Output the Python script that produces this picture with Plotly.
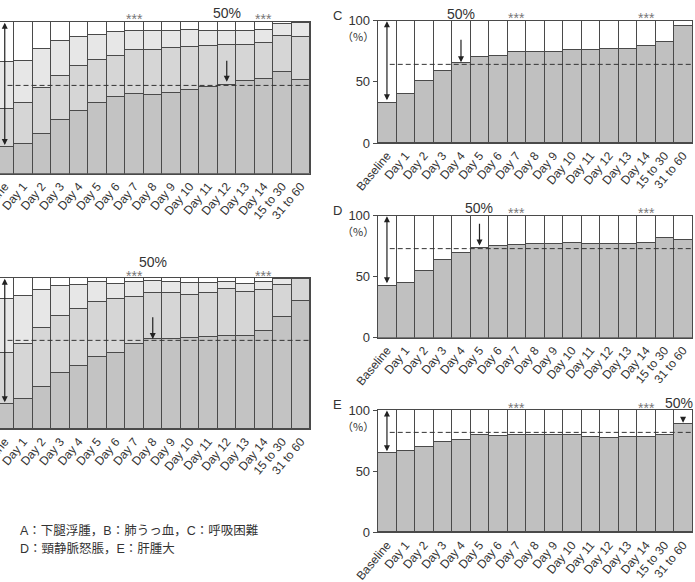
import plotly.graph_objects as go

categories = ["Baseline", "Day 1", "Day 2", "Day 3", "Day 4", "Day 5", "Day 6",
              "Day 7", "Day 8", "Day 9", "Day 10", "Day 11", "Day 12", "Day 13",
              "Day 14", "15 to 30", "31 to 60"]

# Panel A (cumulative boundaries, %)
a_dark = [17.4, 19.8, 25.9, 35.2, 41.1, 46.6, 50.5, 52.5, 51.6, 53.4, 55.2, 56.9, 58.7, 61.3, 62.2, 67.0, 61.8]
a_mid = [42.4, 46.4, 56.3, 64.4, 70.8, 74.7, 77.8, 81.3, 81.3, 82.9, 83.7, 84.0, 84.6, 85.1, 86.2, 90.5, 89.9]
a_light = [73.4, 74.5, 82.0, 87.7, 89.9, 91.4, 93.2, 93.8, 93.8, 94.1, 94.5, 93.8, 93.8, 93.8, 94.5, 98.5, 99.6]

# Panel B (cumulative boundaries, %)
b_dark = [16.3, 19.6, 27.8, 37.3, 41.5, 47.7, 50.1, 56.1, 59.4, 59.6, 60.0, 60.7, 61.8, 61.6, 64.9, 73.9, 84.8]
b_mid = [50.6, 56.1, 66.7, 74.8, 79.5, 83.9, 86.3, 87.2, 89.8, 89.8, 88.7, 89.8, 92.5, 90.9, 92.1, 95.4, 99.6]
b_light = [85.9, 88.1, 91.8, 94.7, 95.6, 97.1, 96.2, 97.4, 97.8, 97.1, 96.5, 96.5, 97.4, 95.8, 97.4, 99.3, 100.0]

# Panels C, D, E (%)
c_vals = [33.2, 40.6, 51.2, 59.4, 65.4, 70.6, 71.7, 74.9, 74.7, 74.7, 76.6, 76.6, 77.1, 77.1, 79.3, 83.1, 95.6]
d_vals = [42.9, 45.4, 54.9, 64.2, 69.7, 74.0, 75.1, 76.5, 77.3, 77.3, 78.1, 77.3, 77.3, 77.3, 78.1, 82.2, 80.1]
e_vals = [64.6, 66.5, 69.5, 73.6, 75.7, 79.3, 78.7, 79.3, 79.3, 79.3, 79.3, 77.7, 76.8, 77.7, 77.7, 79.3, 88.6]

# dashed reference levels (%)
ref_levels = {"A": 58.2, "B": 58.7, "C": 64.3, "D": 73.0, "E": 81.7}
# column where the 50% level is reached
half_col = {"A": "Day 12", "B": "Day 8", "C": "Day 4", "D": "Day 5", "E": "31 to 60"}
star_cols = ["Day 7", "Day 14"]

legend_lines = ["A：下腿浮腫，B：肺うっ血，C：呼吸困難", "D：頸静脈怒脹，E：肝腫大"]

W, H = 695, 582
FONT = "Liberation Sans, Arial, Noto Sans CJK JP, sans-serif"
LINE = "#4a4a4a"
idx = list(range(len(categories)))

fig = go.Figure()

def add_bar(y, color, xa, ya):
    fig.add_trace(go.Bar(x=idx, y=y, marker=dict(color=color, line=dict(color=LINE, width=1)),
                         xaxis=xa, yaxis=ya, hoverinfo="skip", showlegend=False))

shades = ["#c3c3c3", "#d6d6d6", "#e7e7e7", "#ffffff"]
for (dk, md, lt), xa, ya in [((a_dark, a_mid, a_light), "x", "y"), ((b_dark, b_mid, b_light), "x2", "y2")]:
    segs = [dk,
            [m - d for m, d in zip(md, dk)],
            [l - m for l, m in zip(lt, md)],
            [100 - l for l in lt]]
    for s, col in zip(segs, shades):
        add_bar(s, col, xa, ya)

for vals, xa, ya in [(c_vals, "x3", "y3"), (d_vals, "x4", "y4"), (e_vals, "x5", "y5")]:
    add_bar(vals, "#c0c0c0", xa, ya)
    add_bar([100 - v for v in vals], "#ffffff", xa, ya)

def px_x(p):
    return p / W

def px_y(p):
    return 1 - p / H

panels = {
    "A": dict(xa="x", ya="y", xd=[0, px_x(310)], yd=[px_y(173.7), px_y(22)], top=22, cut=True, base=a_dark[0]),
    "B": dict(xa="x2", ya="y2", xd=[0, px_x(310)], yd=[px_y(429), px_y(278)], top=278, cut=True, base=b_dark[0]),
    "C": dict(xa="x3", ya="y3", xd=[px_x(377.7), px_x(692.3)], yd=[px_y(143), px_y(20.7)], top=20.7, cut=False, base=c_vals[0]),
    "D": dict(xa="x4", ya="y4", xd=[px_x(377.7), px_x(692.3)], yd=[px_y(337.7), px_y(215.7)], top=215.7, cut=False, base=d_vals[0]),
    "E": dict(xa="x5", ya="y5", xd=[px_x(377.7), px_x(692.3)], yd=[px_y(532.3), px_y(410)], top=410, cut=False, base=e_vals[0]),
}

layout = dict(width=W, height=H, margin=dict(l=0, r=0, t=0, b=0, pad=0, autoexpand=False),
              barmode="stack", bargap=0,
              plot_bgcolor="white", paper_bgcolor="white", showlegend=False,
              font=dict(family=FONT, color="#333"))
annotations = []
shapes = []

half_shift = {"A": 9, "B": 16, "C": 7, "D": 8, "E": 7.5}
arrow_span = {"A": (75.4, 60.6), "B": (75.0, 59.6), "C": (85.6, 66.0), "D": (94.6, 75.5), "E": (94.5, 89.5)}

for name, p in panels.items():
    xk = "xaxis" + p["xa"][1:]
    yk = "yaxis" + p["ya"][1:]
    rng = [-0.257, 16.5] if p["cut"] else [-0.5, 16.5]
    layout[xk] = dict(domain=p["xd"], anchor=p["ya"], range=rng, autorange=False, automargin=False,
                      tickmode="array", tickvals=idx, ticklabeloverflow="allow",
                      ticktext=categories, tickangle=-50, ticks="", showline=True, mirror=True,
                      linecolor=LINE, linewidth=1, showgrid=False, zeroline=False,
                      tickfont=dict(family=FONT, size=12, color="#333"), fixedrange=True)
    if p["cut"]:
        layout[yk] = dict(domain=p["yd"], anchor=p["xa"], range=[0, 100], autorange=False, automargin=False,
                          showticklabels=False, ticks="", showgrid=False, zeroline=False, showline=True,
                          side="right", linecolor=LINE, linewidth=1)
    else:
        layout[yk] = dict(domain=p["yd"], anchor=p["xa"], range=[0, 100], autorange=False, automargin=False,
                          tickvals=[0, 50, 100],
                          ticks="outside", ticklen=4, tickcolor=LINE, showgrid=False, zeroline=False,
                          showline=True, mirror=True, linecolor=LINE, linewidth=1,
                          tickfont=dict(family=FONT, size=13, color="#333"))
        # panel letter and unit
        annotations.append(dict(text=name, xref="paper", yref="paper", x=px_x(337), y=px_y(p["top"] - 5.7),
                                showarrow=False, xanchor="center", yanchor="middle",
                                font=dict(family=FONT, size=13, color="#333")))
        annotations.append(dict(text="（%）", xref="paper", yref="paper", x=px_x(358), y=px_y(p["top"] + 15.5),
                                showarrow=False, xanchor="center", yanchor="middle",
                                font=dict(family="Noto Sans CJK JP, sans-serif", size=11, color="#333")))
    # dashed reference
    shapes.append(dict(type="line", xref=p["xa"], yref=p["ya"], x0=0.15, x1=16.5,
                       y0=ref_levels[name], y1=ref_levels[name], layer="above",
                       line=dict(color="#333", width=1, dash="5px,3px")))
    # double arrow at baseline
    annotations.append(dict(text="", xref=p["xa"], yref=p["ya"], axref=p["xa"], ayref=p["ya"],
                            x=0, y=99.5, ax=0, ay=p["base"] + 0.5, showarrow=True, arrowside="end+start",
                            arrowhead=2, arrowsize=1, arrowwidth=1.2, arrowcolor="#222"))
    # single arrow at 50% column
    ci = categories.index(half_col[name])
    t0, t1 = arrow_span[name]
    annotations.append(dict(text="", xref=p["xa"], yref=p["ya"], axref=p["xa"], ayref=p["ya"],
                            x=ci, y=t1, ax=ci, ay=t0, showarrow=True, arrowhead=2, arrowsize=1,
                            arrowwidth=1.2, arrowcolor="#222"))
    if ci == len(categories) - 1:
        annotations.append(dict(text="50%", xref="paper", yref=p["ya"], x=1, y=100, yshift=half_shift[name],
                                showarrow=False, xanchor="right", yanchor="middle",
                                font=dict(family=FONT, size=14, color="#333")))
    else:
        annotations.append(dict(text="50%", xref=p["xa"], yref=p["ya"], x=ci, y=100, yshift=half_shift[name],
                                showarrow=False, xanchor="center", yanchor="middle",
                                font=dict(family=FONT, size=14, color="#333")))
    for sc in star_cols:
        annotations.append(dict(text="***", xref=p["xa"], yref=p["ya"], x=categories.index(sc), y=100,
                                yshift=2.5, showarrow=False, xanchor="center", yanchor="middle",
                                font=dict(family=FONT, size=14, color="#777")))

for i, line in enumerate(legend_lines):
    annotations.append(dict(text=line, xref="paper", yref="paper", x=px_x(18), y=px_y(530.7 + i * 17.6),
                            showarrow=False, xanchor="left", yanchor="middle",
                            font=dict(family="Liberation Sans, Noto Sans CJK JP, sans-serif", size=12.5, color="#333")))

layout["annotations"] = annotations
layout["shapes"] = shapes
fig.update_layout(**layout)
fig.write_html("out.html")
